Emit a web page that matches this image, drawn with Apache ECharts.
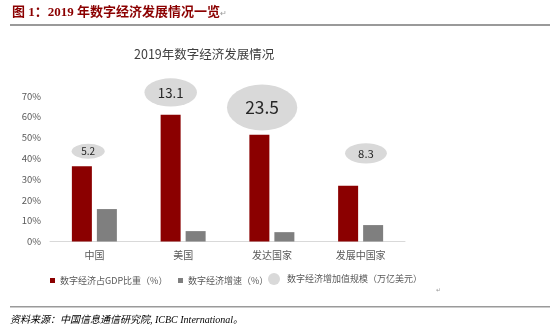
<!DOCTYPE html>
<html><head><meta charset="utf-8">
<script src="https://cdn.jsdelivr.net/npm/echarts/dist/echarts.min.js"></script>
<style>html,body{margin:0;padding:0;background:#fff}#c{width:550px;height:330px}</style>
</head><body><div id="c"></div>
<script>
const categories = ['中国', '美国', '发达国家', '发展中国家'];
const gdpShare = [36.2, 61.0, 51.3, 26.8];      // 数字经济占GDP比重（%）
const growthRate = [15.6, 5.0, 4.5, 7.9];       // 数字经济增速（%）
const addedValue = [5.2, 13.1, 23.5, 8.3];      // 数字经济增加值规模（万亿美元）
const bubbleX = [0.43, 1.36, 2.39, 3.56];       // bubble chart x values
const bubbleY = [43.4, 71.7, 64.5, 42.4];       // bubble chart y values
const yTicks = [0, 10, 20, 30, 40, 50, 60, 70];

const seriesNames = ['数字经济占GDP比重（%）', '数字经济增速（%）', '数字经济增加值规模（万亿美元）'];
const FONT = '"Noto Sans CJK SC", "Noto Sans", sans-serif';

const chart = echarts.init(document.getElementById('c'), null, {renderer: 'canvas'});
const legendText = {fontFamily: FONT, fontSize: 9, color: '#595959'};
chart.setOption({
  animation: false,
  backgroundColor: '#fff',
  textStyle: {fontFamily: FONT},
  title: {
    text: '2019年数字经济发展情况',
    left: 129, top: 43,
    textStyle: {fontFamily: FONT, fontSize: 12.5, fontWeight: 'normal', color: '#404040'}
  },
  legend: [{
    data: [{name: seriesNames[0]}],
    left: 45, top: 271,
    icon: 'rect', itemWidth: 5, itemHeight: 5,
    textStyle: legendText
  }, {
    data: [{name: seriesNames[1]}],
    left: 173, top: 271,
    icon: 'rect', itemWidth: 5, itemHeight: 5,
    textStyle: legendText
  }, {
    data: [{name: seriesNames[2]}],
    left: 263, top: 268,
    icon: 'circle', itemWidth: 12, itemHeight: 12, itemGap: 0,
    textStyle: Object.assign({}, legendText, {padding: [0, 0, 0, 2]})
  }],
  grid: {left: 50, right: 145, top: 96, bottom: 88.5, containLabel: false},
  xAxis: [{
    type: 'category', data: categories,
    axisLine: {lineStyle: {color: '#d9d9d9'}},
    axisTick: {show: false},
    axisLabel: {fontFamily: FONT, fontSize: 10, color: '#595959', margin: 9}
  }, {
    type: 'value', min: 0, max: 4, show: false
  }],
  yAxis: [{
    type: 'value', min: yTicks[0], max: yTicks[yTicks.length - 1], interval: 10,
    axisLine: {show: false}, axisTick: {show: false}, splitLine: {show: false},
    axisLabel: {formatter: '{value}%', fontFamily: FONT, fontSize: 9.5, color: '#595959', margin: 9}
  }],
  series: [{
    name: seriesNames[0], type: 'bar', data: gdpShare,
    barWidth: 20, barGap: '25%',
    itemStyle: {color: '#8B0000'}
  }, {
    name: seriesNames[1], type: 'bar', data: growthRate,
    barWidth: 20, barGap: '25%',
    itemStyle: {color: '#7F7F7F'}
  }, {
    name: seriesNames[2], type: 'scatter', xAxisIndex: 1, yAxisIndex: 0,
    clip: false, z: 5,
    itemStyle: {color: '#D9D9D9', opacity: 1},
    symbolSize: function (val) {
      const v = val[2];
      return [14.5 * Math.sqrt(v), 6 + 1.7 * v];
    },
    data: addedValue.map(function (v, i) {
      return {
        value: [bubbleX[i], bubbleY[i], v],
        label: {
          show: true, position: 'inside',
          formatter: String(v),
          fontFamily: FONT, fontSize: 8 + 0.4 * v, color: '#262626'
        }
      };
    })
  }],
  graphic: [{
    type: 'text', left: 12, top: 6,
    style: {
      text: '{a|图 1：2019 年数字经济发展情况一览}{b|↵}',
      rich: {
        a: {fontFamily: '"Liberation Serif", "Noto Sans CJK SC", serif', fontSize: 13, fontWeight: 'bold', fill: '#8B0000'},
        b: {fontFamily: FONT, fontSize: 8, fill: '#999999'}
      }
    }
  }, {
    type: 'rect', shape: {x: 10, y: 24, width: 540, height: 2},
    style: {fill: '#9a9a9a'}
  }, {
    type: 'text', left: 436, top: 287,
    style: {text: '↵', fontSize: 6, fill: '#999999', fontFamily: FONT}
  }, {
    type: 'rect', shape: {x: 10, y: 306, width: 540, height: 1.5},
    style: {fill: '#9a9a9a'}
  }, {
    type: 'text', left: 10, top: 315,
    style: {
      text: '资料来源：中国信息通信研究院, ICBC International。',
      fontFamily: '"Liberation Serif", "Noto Sans CJK SC", serif',
      fontStyle: 'italic', fontSize: 10, fill: '#000000'
    }
  }]
});
</script>
</body></html>
